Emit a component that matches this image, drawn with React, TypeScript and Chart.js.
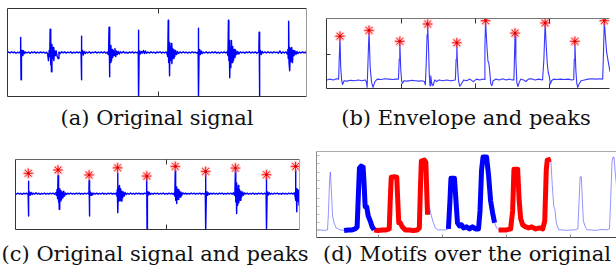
import React, { useEffect, useRef } from "react";
import { Chart, registerables } from "chart.js";
Chart.register(...registerables);

type P = [number, number];

// (a) original signal: [sample, amplitude]
const signalA: P[] = [
  [0,0],[1.5,0.5],[3,-0.5],[4.5,0.8],[6,-0.3],[7.5,0.6],[9,-0.8],[10.5,0.3],[12,-0.5],[13,0.8],
  [13.5,0],[13.7,15],[14.0,-27],[14.4,-2],[15,2],[15.8,-3],[16.6,1.5],[17.5,-1],[18.5,0.5],
  [20,-0.5],[21.5,0.5],[23,-0.8],[24.5,0.6],[26,-0.3],[27.5,0.7],[29,-0.6],[30.5,0.4],[32,-0.5],[33.5,0.6],[35,-0.4],[36.5,0.5],[38,-0.7],[39.5,0.3],
  [40.5,-1.5],[41.3,-8],[42,2],[42.6,-4],[43,23],[43.4,-12],[43.8,14],[44.3,-19],[44.8,8],[45.4,-6],[46,5],[46.7,-8],[47.4,2],[48.2,-3],[49,1.5],[50,-4],[51,-6],[51.8,0.5],[53,-1],
  [54.5,0.8],[56,-0.4],[57.5,0.6],[59,-0.6],[60.5,0.5],[62,-0.3],[63.5,0.8],[65,-0.7],[66.5,0.4],[68,-0.5],[69.5,0.6],[71,-0.4],[72.5,0.5],[73.5,-0.5],
  [73.8,0],[74,16],[74.3,-27],[74.7,-1],[75.3,2],[76,-2.5],[77,1],[78,-1],[79,0.5],
  [80.5,-0.5],[82,0.7],[83.5,-0.8],[85,0.4],[86.5,-0.3],[88,0.8],[89.5,-0.6],[91,0.5],[92.5,-0.4],[94,0.6],[95.5,-0.5],[97,0.7],[98.5,-0.6],[100,0.4],
  [100.8,-2],[101.3,4],[101.7,25],[102.1,-24],[102.6,6],[103.1,-10],[103.6,7],[104.2,-8],[104.8,3],[105.4,-5],[106,2],[106.8,-3],[107.6,4],[108.4,-4],[109.2,1.5],[110,-2],[111,1],[112,-1.5],[113,0.8],
  [114.5,-0.5],[116,1],[117.5,-0.6],[119,0.4],[120.5,-0.8],[122,0.6],[123.5,-0.3],[125,0.7],[126.5,-0.6],[128,0.5],[129.5,-0.4],[130.5,0.5],
  [130.8,0],[131,22],[131.3,-44],[131.7,-1],[132.3,1.5],[133,-1.5],[134,1],[135,-0.5],[136,2],[137,-1],[138,1.5],[139,-0.8],
  [140.5,0.5],[142,-0.6],[143.5,0.7],[145,-0.4],[146.5,0.5],[148,-0.7],[149.5,0.6],[151,-0.3],[152.5,0.8],[154,-0.6],[155.5,0.4],[157,-0.5],[158.5,0.6],[159.5,-1],
  [160.2,-4],[160.7,32],[161.1,-10],[161.5,10],[162,-23],[162.5,6],[163.1,-8],[163.7,9],[164.3,-11],[165,4],[165.7,-6],[166.4,3],[167.2,-4],[168,2],[169,-2],[170,1],[171,-1],
  [172.5,0.6],[174,-0.5],[175.5,0.7],[177,-0.4],[178.5,0.5],[180,-0.6],[181.5,0.4],[183,-0.5],[184.5,0.8],[186,-0.3],[187.5,0.5],[189,-0.6],[190.3,0.4],
  [190.5,0],[190.7,24],[191,-44],[191.4,-2],[192,3],[192.8,-2],[193.6,1.5],[194.5,-1],[195.5,0.5],
  [197,-0.5],[198.5,0.7],[200,-0.6],[201.5,0.4],[203,-0.5],[204.5,0.6],[206,-0.4],[207.5,0.7],[209,-0.6],[210.5,0.4],[212,-0.7],[213.5,0.5],[215,-0.3],[216.5,0.6],[218,-0.5],[219.5,0.8],
  [220.2,-3],[220.7,32],[221.1,-8],[221.5,12],[222,-25],[222.5,5],[223.1,-15],[223.7,12],[224.3,-10],[225,6],[225.7,-8],[226.4,3],[227.2,-5],[228,2],[229,-2],[230,1],[231,-1.5],
  [232.5,0.6],[234,-0.4],[235.5,0.5],[237,-0.7],[238.5,0.6],[240,-0.3],[241.5,0.8],[243,-0.6],[244.5,0.5],[246,-0.4],[247.5,0.6],[249,-0.7],[250.5,0.5],[251,0],
  [251.3,20],[251.6,-44],[252,-1],[252.6,2],[253.4,-2],[254.3,1],[255.3,-0.5],
  [257,0.6],[258.5,-0.5],[260,0.7],[261.5,-0.4],[263,0.5],[264.5,-0.6],[266,0.8],[267.5,-0.3],[269,0.5],[270.5,-0.7],[272,1.5],[273.5,-1],[275,0.6],[276.5,-0.5],[278,0.7],[279.3,-1.5],
  [279.9,3],[280.3,-6],[280.7,31],[281.1,-10],[281.5,5],[282,-18],[282.6,4],[283.2,-9],[283.8,5],[284.5,-10],[285.2,2],[286,-3],[287,1.5],[288,-2],[289,1],[290,-1],
  [291.5,0.5],[293,-0.6],[294.5,0.8],[296,-0.4],[297.5,0.5],[299,-2],
];

// (b) envelope and detected peaks
const envelopeB: P[] = [
  [1,11],[4,12],[8,11],[11,12.5],[13.3,12],[14.7,64],[15.5,26],[16.5,10],[17.5,5.5],[19,10],[22,9.5],[26,10.5],[30,10],[34,11],[38,10],[41,11],
  [42.5,9],[43.3,2],[44.3,36],[45.3,71],[46.5,26],[48,8],[49.5,2],[51.5,9],[54,12],[58,11.5],[62,12.5],[66,12],[70,11.5],[74,12],
  [76.3,12],[77.1,36],[77.7,57.7],[78.7,24],[79.7,9],[80.7,7],[82,10],[86,9.5],[90,10.5],[94,10],[98,9.5],[101,10],
  [103.5,9],[104.6,5],[105.5,31],[106.4,66],[107,78.7],[107.9,51],[108.8,16],[109.5,4],[110.3,16],[111.3,7],[112.7,4],[114.5,11],[116.5,9],[119,11],[123,10],[127,11],[131,10],[134,10.5],
  [136.2,11],[137,36],[137.7,56],[138.6,26],[139.5,10],[140.8,3.5],[142.5,6],[145,11],[148,10],[151.5,12],[155,9],[158.5,12],[162,11],[165,12],
  [166.6,11.5],[167.3,51],[168,82.7],[169.3,54],[170.5,34],[171.5,31],[172.5,20],[173.5,6],[174.7,4],[176,10],[179,12],[182.5,11],[186,12.5],[189.5,11],[193,12],[196,11],
  [197.8,11],[198.5,41],[199,67.7],[199.9,36],[200.9,8],[202,3],[203.5,8],[205,12],[208,11],[210.5,9],[213,12],[216.5,12.5],[220,11],[224,12],[228,11],
  [229.4,36],[230.7,80],[231.8,54],[233,30],[234,20],[235,16],[236.2,6],[237.5,10],[239.5,12],[243,11.5],[247,12],[251,11.5],[255,12],[259,11],
  [260.8,11.5],[261.4,36],[262,57.7],[263,24],[264,7],[265,2],[266.5,6],[268.5,10],[272,11],[276,12],[280,12.5],[284,12],[288,12.5],
  [291.3,12],[292.2,46],[293,82.7],[294,66],[295.5,44],[297,34],[299,21],
];
const peaksB: P[] = [
  [14.7,64],[45.3,71],[77.7,57.7],[107,78.7],[137.7,56],[168,82.7],[199,67.7],[230.7,80],[262,57.7],[293,82.7],
];

// (c) original signal with peaks
const signalC: P[] = [
  [0,0],[1.5,-0.5],[3,0.7],[4.5,-0.4],[6,0.5],[7.5,-0.8],[9,0.6],[10.5,-0.3],[12,0.7],[13.3,-0.5],
  [13.8,0],[14,15],[14.3,-27],[14.7,-1],[15.3,2],[16,-2],[17,1.5],[18,-1],[19,0.8],
  [20.5,-0.6],[22,1],[23.5,-0.5],[25,0.6],[26.5,-0.8],[28,0.5],[29.5,-0.4],[31,0.8],[32.5,-0.6],[34,0.4],[35.5,-0.5],[37,0.7],[38.5,-0.4],[40,0.6],[41.5,-0.7],[42.8,1],
  [43.6,-2],[44.3,5],[44.8,-6],[45.3,22],[45.7,-10],[46.1,8],[46.6,-19],[47.1,6],[47.7,-9],[48.3,4],[49,-7],[49.7,2],[50.5,-5],[51.3,3],[52.2,-3],[53.2,1],[54.2,-1],
  [55.5,0.6],[57,-0.5],[58.5,0.8],[60,-0.4],[61.5,0.5],[63,-0.7],[64.5,0.6],[66,-0.3],[67.5,0.7],[69,-0.6],[70.5,0.4],[72,-0.5],[73.5,0.7],[75,-0.4],[76.5,0.6],[77.6,-0.5],
  [77.8,0],[78,16],[78.3,-27],[78.7,-1],[79.3,2],[80,-2],[81,1],[82,-1],[83,0.6],
  [84.5,-0.5],[86,0.7],[87.5,-0.6],[89,0.5],[90.5,-0.4],[92,0.8],[93.5,-0.5],[95,0.4],[96.5,-0.7],[98,0.6],[99.5,-0.3],[101,0.7],[102.5,-0.6],[104,0.5],[105.5,-0.4],[106.8,1],
  [107.3,-3],[107.7,5],[108,25],[108.4,-23],[108.9,8],[109.4,-9],[110,10],[110.6,-8],[111.2,6],[111.9,-9],[112.6,3],[113.4,-5],[114.2,2],[115,-3],[116,1.5],[117,-1],
  [118.5,0.5],[120,-0.6],[121.5,0.8],[123,-0.4],[124.5,0.5],[126,-0.7],[127.5,0.6],[129,-0.3],[130.5,0.7],[132,-0.6],[133.5,0.4],[135,-0.5],[136.5,0.7],[138.3,-0.4],
  [138.5,0],[138.7,21],[139,-44],[139.4,-1],[140,2],[140.8,-1.5],[141.7,1],[142.7,-0.8],
  [144,0.5],[145.5,-0.6],[147,0.7],[148.5,-0.4],[150,0.6],[151.5,-0.7],[153,0.5],[154.5,-0.3],[156,0.8],[157.5,-0.6],[159,0.4],[160.5,-0.5],[162,0.7],[163.5,-0.4],[165,0.6],[166.5,-0.8],[167.7,1],
  [168.2,-3],[168.7,28],[169.1,-8],[169.5,6],[170,-12],[170.5,8],[171.1,-7],[171.7,5],[172.4,-7],[173.1,3],[173.9,-4],[174.7,2],[175.6,-2],[176.6,1],
  [178,-0.5],[179.5,0.7],[181,-0.6],[182.5,0.4],[184,-0.5],[185.5,0.8],[187,-0.4],[188.5,0.6],[190,-0.7],[191.5,0.5],[193,-0.3],[194.5,0.7],[196,-0.6],[197.5,0.5],[199,-0.4],[200.3,0.6],
  [200.5,0],[200.7,27],[201,-44],[201.4,-2],[202,2.5],[202.8,-2],[203.7,1],[204.7,-0.8],
  [206,0.6],[207.5,-0.5],[209,0.7],[210.5,-0.4],[212,0.5],[213.5,-0.7],[215,0.6],[216.5,-0.3],[218,0.8],[219.5,-0.6],[221,0.4],[222.5,-0.5],[224,0.7],[225.5,-0.4],[227,0.6],[228.5,-0.7],[230,1],[231,-2],
  [231.5,3],[232,28],[232.4,-10],[232.8,13],[233.3,-24],[233.8,6],[234.4,-14],[235,10],[235.6,-11],[236.3,5],[237,-8],[237.8,3],[238.6,-4],[239.5,2],[240.5,-2],[241.5,1],
  [243,-0.5],[244.5,0.6],[246,-0.7],[247.5,0.5],[249,-0.4],[250.5,0.8],[252,-0.6],[253.5,0.4],[255,-0.5],[256.5,0.7],[258,-0.4],[259.5,0.6],[261,-0.7],[262.5,0.5],[264.3,-0.4],
  [264.5,0],[264.7,20],[265,-44],[265.4,-1],[266,2],[266.8,-1.5],[267.7,1],[268.7,-0.6],
  [270,0.5],[271.5,-0.7],[273,0.6],[274.5,-0.4],[276,0.8],[277.5,-0.5],[279,0.4],[280.5,-0.6],[282,0.7],[283.5,-0.4],[285,0.5],[286.5,-0.7],[288,0.6],[289.5,-0.3],[291,0.7],[292.5,-0.5],[294,1],[294.8,-3],
  [295.3,28],[295.7,-8],[296.1,6],[296.6,-22],[297.1,5],[297.7,-9],[298.3,4],[299,-14],[299.6,3],[300,-6],
];
const peaksC: P[] = [
  [14,24.7],[45.3,28.7],[78,22.7],[108,31.3],[138.7,21.3],[168.7,33],[200.7,27],[232,31],[264.7,23],[295.3,33],
];

// (d) envelope with motif occurrences
const envelopeD: P[] = [
  [0,8],[4,8],[8,7.5],[11.5,8],[12.5,27],[13.5,57],[14.3,65.3],[15.3,47],[16.5,22],[18,15],[20,10],[24,8],[28,7.5],[32,8],[36,8],[39,9],
  [41,11],[42,37],[43.3,69],[45,71],[47,70],[48,52],[49,31],[50.5,31],[52,22],[54,17],[56,11],[58,8],[62,7.5],[66,8],[70,8],[73,9],
  [74,37],[75,60],[78,60.5],[80.5,60],[81.5,37],[82.5,15],[84,15],[86,11],[89,8],[93,8],[97,7.5],[101,8],[103,10],
  [104,47],[105,76],[108,77],[109.5,75],[110.5,42],[111.2,23],[112.3,32],[113.5,29],[115,22],[117,15],[119,10],[121,8],[125,8],[129,8],[132,9],
  [133.5,37],[134.5,59],[138,59],[139.5,37],[141,15],[143,12],[145,13],[147,10],[150,11],[153,9],[156,11],[159,9],[162,9],
  [163.5,27],[165,67],[166.5,80],[170,80],[172,62],[174,37],[176,25],[178,15],[180,10],[182,8],[186,8],[190,8],[194,9],
  [196,27],[197.3,68],[201,68],[202.5,37],[204,19],[206,13],[209,11],[212,10],[215,11],[219,9],[223,10],[226,9],
  [228,17],[229.5,67],[230.5,77],[234,78],[235.5,52],[237,31],[238,29],[239.5,15],[242,8],[246,8],[250,7.5],[254,8],[258,8],[261,9],
  [262,32],[263.3,60.5],[264.5,60.5],[265.5,37],[266.5,17],[268,12],[270,8],[274,8],[278,7.5],[282,8],[286,8.5],[290,8],[292.5,9],
  [293.5,32],[295,75],[296,80],[297,80],[298.5,62],[300,47],[301,42],
];
// [from, to, motif id]
const motifRangesD: [number, number, number][] = [
  [27, 58, 0],
  [58, 111.2, 1],
  [132, 178, 0],
  [181, 234, 1],
];

const ticksA = [150];
const ticksB = [79, 157, 235];
const ticksBLeft = [43];
const ticksC = [158.7];
const ticksD = [62, 126, 189, 253];
const ticksDLeft = [8, 16, 24, 32, 40, 49, 57, 65, 74, 82];

const captions = [
  "(a) Original signal",
  "(b) Envelope and peaks",
  "(c) Original signal and peaks",
  "(d) Motifs over the original",
];

const motifColors = ["#0000ff", "#ff0000"];

const toXY = (arr: P[]) => arr.map(([x, y]) => ({ x, y }));

const framePlugin = {
  id: "frame",
  afterDraw(chart: any, _args: any, opts: any) {
    const { ctx, chartArea: a } = chart;
    const l = a.left + 0.5, r = a.right - 0.5, t = a.top + 0.5, b = a.bottom - 0.5;
    ctx.save();
    ctx.lineWidth = 1;
    const seg = (c: string | undefined, x1: number, y1: number, x2: number, y2: number) => {
      if (!c) return;
      ctx.strokeStyle = c;
      ctx.beginPath();
      ctx.moveTo(x1, y1);
      ctx.lineTo(x2, y2);
      ctx.stroke();
    };
    seg(opts.top, l, t, r, t);
    seg(opts.bottom, l, b, r, b);
    seg(opts.left, l, t, l, b);
    seg(opts.right, r, t, r, b);
    const xs = chart.scales.x, ys = chart.scales.y;
    const len = opts.tickLen || 5;
    for (const v of opts.xTicks || []) {
      const px = Math.round(xs.getPixelForValue(v)) + 0.5;
      if (opts.xTop) seg(opts.tickColor, px, t, px, t + len);
      if (opts.xBottom) seg(opts.tickColor, px, b, px, b - len);
    }
    for (const v of opts.yTicks || []) {
      const py = Math.round(ys.getPixelForValue(v)) + 0.5;
      seg(opts.yTickColor || opts.tickColor, l, py, l + (opts.yTickLen || len), py);
    }
    ctx.restore();
  },
};

type PanelProps = {
  left: number; top: number; width: number; height: number;
  xMax: number; yMin: number; yMax: number;
  datasets: any[]; frame: any;
};

function Panel(p: PanelProps) {
  const ref = useRef<HTMLCanvasElement | null>(null);
  useEffect(() => {
    if (!ref.current) return;
    const chart = new Chart(ref.current, {
      type: "scatter",
      data: { datasets: p.datasets },
      options: {
        animation: false,
        responsive: false,
        maintainAspectRatio: false,
        events: [],
        layout: { padding: 0 },
        scales: {
          x: { type: "linear", min: 0, max: p.xMax, display: false },
          y: { type: "linear", min: p.yMin, max: p.yMax, display: false },
        },
        plugins: {
          legend: { display: false },
          tooltip: { enabled: false },
          frame: p.frame,
        } as any,
      },
      plugins: [framePlugin],
    } as any);
    return () => chart.destroy();
  }, []);
  return (
    <canvas
      ref={ref}
      width={p.width}
      height={p.height}
      style={{ position: "absolute", left: p.left, top: p.top, width: p.width, height: p.height }}
    />
  );
}

const lineDs = (data: P[], color: string, width: number, order: number) => ({
  data: toXY(data),
  showLine: true,
  borderColor: color,
  borderWidth: width,
  pointRadius: 0,
  tension: 0,
  borderJoinStyle: "round",
  order,
});

const starDs = (data: P[]) => [
  {
    data: toXY(data), showLine: false, pointStyle: "star", pointRadius: 5.5,
    pointBorderColor: "rgba(255,110,110,0.45)", pointBorderWidth: 2.5,
    pointBackgroundColor: "rgba(0,0,0,0)", order: 2,
  },
  {
    data: toXY(data), showLine: false, pointStyle: "star", pointRadius: 4.5,
    pointBorderColor: "#ff1a1a", pointBorderWidth: 1,
    pointBackgroundColor: "rgba(0,0,0,0)", order: 1,
  },
  {
    data: toXY(data), showLine: false, pointStyle: "circle", pointRadius: 1.4,
    pointBorderWidth: 0, pointBackgroundColor: "#dd0000", order: 0,
  },
];

const motifDs = motifRangesD.map(([from, to, id]) =>
  lineDs(envelopeD.filter(([x]) => x >= from && x <= to), motifColors[id], 5, 1)
);

const captionStyle = (cx: number, top: number): React.CSSProperties => ({
  position: "absolute",
  left: cx,
  top,
  transform: "translateX(-50%)",
  whiteSpace: "nowrap",
  fontFamily: "'DejaVu Serif', serif",
  fontSize: 21,
  lineHeight: "21px",
  color: "#111",
});

export default function App() {
  useEffect(() => {
    document.body.style.margin = "0";
  }, []);
  return (
    <div style={{ position: "fixed", left: 0, top: 0, width: 616, height: 272, background: "#fff", overflow: "hidden" }}>
      <Panel
        left={7} top={8} width={300} height={89} xMax={299} yMin={-44} yMax={44}
        datasets={[lineDs(signalA, "#0000ff", 1.4, 3)]}
        frame={{ top: "#333", left: "#333", bottom: "#333", right: "#999", xTicks: ticksA, xTop: true, xBottom: true, tickColor: "#333", tickLen: 5 }}
      />
      <Panel
        left={318} top={10} width={300} height={87} xMax={299} yMin={0} yMax={86}
        datasets={[lineDs(envelopeB, "rgba(20,20,255,0.85)", 1.1, 3), ...starDs(peaksB)]}
        frame={{ top: "#777", left: "#333", bottom: "#333", xTicks: ticksB, xTop: true, xBottom: true, yTicks: ticksBLeft, tickColor: "#333", tickLen: 5, yTickLen: 4 }}
      />
      <Panel
        left={7} top={151} width={301} height={87} xMax={300} yMin={-44} yMax={42}
        datasets={[lineDs(signalC, "#0000ff", 1.4, 3), ...starDs(peaksC)]}
        frame={{ top: "#666", left: "#333", bottom: "#333", right: "#aaa", xTicks: ticksC, xTop: true, xBottom: true, tickColor: "#333", tickLen: 5 }}
      />
      <Panel
        left={316} top={151} width={302} height={87} xMax={301} yMin={0} yMax={86}
        datasets={[lineDs(envelopeD, "rgba(60,60,255,0.55)", 1, 2), ...motifDs]}
        frame={{ top: "#aaa", left: "#888", bottom: "#444", xTicks: ticksD, xBottom: true, yTicks: ticksDLeft, tickColor: "#888", yTickColor: "#bbb", tickLen: 3, yTickLen: 3 }}
      />
      <div style={captionStyle(157, 108)}>{captions[0]}</div>
      <div style={captionStyle(466, 108)}>{captions[1]}</div>
      <div style={captionStyle(155, 244)}>{captions[2]}</div>
      <div style={captionStyle(467, 244)}>{captions[3]}</div>
    </div>
  );
}
